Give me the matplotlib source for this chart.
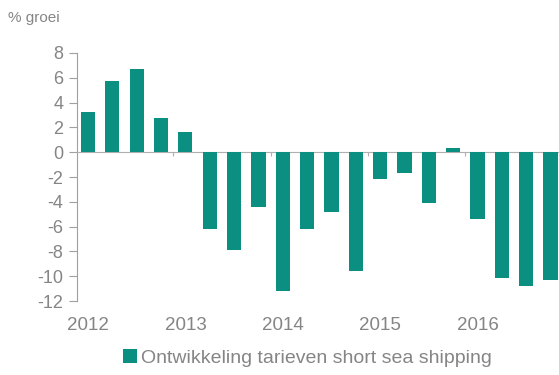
import numpy as np
import matplotlib.pyplot as plt

plt.rcParams['font.family'] = ['Liberation Sans', 'DejaVu Sans']
plt.rcParams['axes.unicode_minus'] = False

# kwartaalcijfers 2012 t/m 2016
jaren = ['2012', '2013', '2014', '2015', '2016']
groei = [3.2, 5.7, 6.7, 2.75, 1.6,
         -6.2, -7.9, -4.45, -11.2,
         -6.2, -4.8, -9.6, -2.2,
         -1.7, -4.1, 0.3, -5.4,
         -10.1, -10.8, -10.3]
reeks = 'Ontwikkeling tarieven short sea shipping'

teal = '#0a8f80'
grijs = '#858585'

fig = plt.figure(figsize=(5.59, 3.75), dpi=100)
ax = fig.add_axes([0.138, 0.197, 0.862, 0.662])

x = np.arange(len(groei))
ax.bar(x, groei, width=0.58, color=teal, label=reeks, zorder=3)

ax.set_ylim(-12, 8)
ax.set_xlim(-0.45, 19.35)
ax.set_yticks(range(-12, 9, 2))
ax.tick_params(axis='y', colors='#a0a0a0', labelsize=13, length=6, width=0.8,
               pad=4, labelcolor=grijs)

# nullijn met jaarscheidingen
ax.spines['bottom'].set_position(('data', 0))
ax.spines['bottom'].set_color('#b0b0b0')
ax.set_xticks([3.5, 7.5, 11.5, 15.5])
ax.set_xticklabels([])
ax.tick_params(axis='x', colors='#b0b0b0', length=3, direction='out')
for s in ['top', 'right']:
    ax.spines[s].set_visible(False)
ax.spines['left'].set_color('#a0a0a0')

for i, jaar in enumerate(jaren):
    ax.text(i * 4, -0.1, jaar, transform=ax.get_xaxis_transform(),
            ha='center', va='center', color=grijs, fontsize=13.5)

fig.text(0.014, 0.952, '% groei', color=grijs, fontsize=11, va='center')

fig.legend(loc='center', bbox_to_anchor=(0.55, 0.045), frameon=False,
           fontsize=14, labelcolor=grijs, handlelength=0.75,
           handleheight=0.75, handletextpad=0.2)

plt.savefig('out.png')
